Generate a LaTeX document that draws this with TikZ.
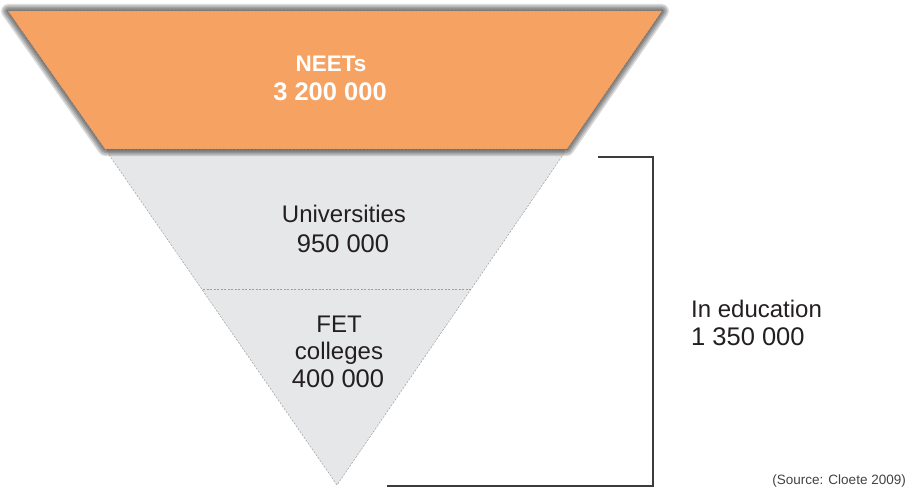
\documentclass[tikz,border=0pt]{standalone}
\usepackage{fontspec}
\setmainfont{Liberation Sans}
\definecolor{neetorange}{HTML}{F5A263}
\definecolor{funnelgray}{HTML}{E6E7E8}
\definecolor{textdark}{HTML}{231F20}
\definecolor{bracketgray}{HTML}{3C3C3C}
\tikzset{
  outline/.style={draw=gray!75, line width=0.5pt, dash pattern=on 2pt off 1.5pt},
  lbl/.style={font=\fontsize{24}{28}\selectfont, text=textdark, anchor=base, inner sep=0pt},
  numlbl/.style={font=\fontsize{25.5}{28}\selectfont, text=textdark, anchor=base, inner sep=0pt},
  neetlbl/.style={font=\fontsize{22.5}{28}\selectfont\bfseries, text=white, anchor=base, inner sep=0pt},
  neetnum/.style={font=\fontsize{25.5}{28}\selectfont\bfseries, text=white, anchor=base, inner sep=0pt},
  sidelbl/.style={font=\fontsize{24}{28}\selectfont, text=textdark, anchor=base west, inner sep=0pt},
  sidenum/.style={font=\fontsize{25.5}{28}\selectfont, text=textdark, anchor=base west, inner sep=0pt},
  bracket/.style={draw=bracketgray, line width=1.3pt},
  shadowlayer/.style={fill=black, draw=black, opacity=0.14, line join=round},
}
\begin{document}
\begin{tikzpicture}[x=1pt,y=-1pt]
\useasboundingbox (0,0) rectangle (908,487);
% corner coordinates
\coordinate (tl) at (8,11);
\coordinate (tr) at (662,11);
\coordinate (br) at (567,149);
\coordinate (bl) at (105,149);
\coordinate (apex) at (337,485);
\coordinate (dl) at (203,289);
\coordinate (dr) at (471,289);
% lower funnel
\fill[funnelgray] (bl) -- (br) -- (apex) -- cycle;
% blurred drop shadow of the top band
\begin{scope}[shift={(4,10)}]
\foreach \w in {14,11,8,5,2}{
  \filldraw[shadowlayer, line width=\w pt] (tl) -- (tr) -- (br) -- (bl) -- cycle;
}
\end{scope}
% top band
\fill[neetorange] (tl) -- (tr) -- (br) -- (bl) -- cycle;
% dashed outlines
\draw[outline] (tl) -- (tr) -- (br) -- (bl) -- cycle;
\draw[outline] (bl) -- (apex) -- (br);
\draw[outline] (dl) -- (dr);
% labels
\node[neetlbl] (neet1) at (331,71) {NEETs};
\node[neetnum] (neet2) at (330,100) {3 200 000};
\node[lbl] (uni1) at (344,222) {Universities};
\node[numlbl] (uni2) at (343,252) {950 000};
\node[lbl] (fet1) at (339,332) {FET};
\node[lbl] (fet2) at (339,359) {colleges};
\node[numlbl] (fet3) at (338,387) {400 000};
\node[sidelbl] (edu1) at (691,317) {In education};
\node[sidenum] (edu2) at (691,345) {1 350 000};
\node[font=\fontsize{13.5}{16}\selectfont, text=textdark!85, anchor=base east, inner sep=0pt] (src) at (906,484) {(Source: Cloete 2009)};
% bracket
\coordinate (bt0) at (598,157);
\coordinate (bt1) at (653,157);
\coordinate (bb1) at (653,486);
\coordinate (bb0) at (387,486);
\draw[bracket] (bt0) -- (bt1) -- (bb1) -- (bb0);
\end{tikzpicture}
\end{document}
